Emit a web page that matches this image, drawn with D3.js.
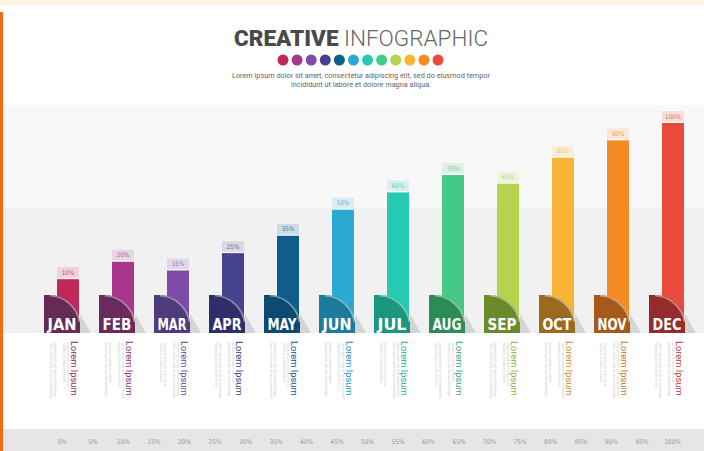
<!DOCTYPE html>
<html><head><meta charset="utf-8">
<script src="https://cdn.jsdelivr.net/npm/d3@7/dist/d3.min.js"></script>
<style>html,body{margin:0;padding:0;background:#fff;overflow:hidden}svg{display:block}</style>
</head><body>
<script>
const months = ["JAN","FEB","MAR","APR","MAY","JUN","JUL","AUG","SEP","OCT","NOV","DEC"];
const values = [10,20,15,25,35,50,60,70,65,80,90,100];
const valueLabels = ["10%","20%","15%","25%","35%","50%","60%","70%","65%","80%","90%","100%"];
const barColors = ["#c0285a","#a8378c","#7d4ca8","#47428f","#0f5d8c","#2aa9d2","#26c9b2","#45c985","#b6d24e","#f8b535","#f68b23","#e84a3b"];
const boxColors = ["#652a55","#6b2a5e","#4f3a7c","#2f2e6a","#0d4a72","#1d7c9e","#1b977f","#2d8b58","#6b8a2a","#9a6a1e","#a55a1b","#962b2b"];
const axisTicks = [0,5,10,15,20,25,30,35,40,45,50,55,60,65,70,75,80,85,90,95,100];
const titleBold = "CREATIVE";
const titleLight = "INFOGRAPHIC";
const subtitle = ["Lorem ipsum dolor sit amet, consectetur adipiscing elit, sed do eiusmod tempor","incididunt ut labore et dolore magna aliqua."];
const itemTitle = "Lorem Ipsum";
const itemText = ["Lorem ipsum dolor sit amet, consectetur","adipiscing elit, sed do eiusmod tempor","incididunt ut labore et dolore","magna aliqua ut enim ad minim"];

const W = 704, H = 451;
const svg = d3.select("body").append("svg").attr("width", W).attr("height", H);

// background
svg.append("rect").attr("width", W).attr("height", H).attr("fill", "#fff");
svg.append("rect").attr("x",0).attr("y",0).attr("width",W).attr("height",5).attr("fill","#fdf5e4");
svg.append("rect").attr("x",3).attr("y",105).attr("width",W-3).attr("height",103).attr("fill","#f8f8f8");
svg.append("rect").attr("x",3).attr("y",208).attr("width",W-3).attr("height",125).attr("fill","#f1f1f1");
svg.append("rect").attr("x",3).attr("y",429).attr("width",W-3).attr("height",22).attr("fill","#e6e6e6");
svg.append("rect").attr("x",0).attr("y",12).attr("width",3).attr("height",H-12).attr("fill","#f26a1b");

// title
const title = svg.append("text").attr("x", 361).attr("y", 46).attr("text-anchor","middle")
  .style("font-family","Roboto, 'Open Sans', sans-serif").style("font-size","22.5px");
title.append("tspan").text(titleBold).attr("font-weight","900").attr("fill","#4a4a4a");
title.append("tspan").text("\u00a0" + titleLight).attr("font-weight","300").attr("fill","#666");

// dots
const dotX = d3.scalePoint().domain(months).range([283, 438]);
svg.append("g").selectAll("circle").data(months).join("circle")
  .attr("cx", d => dotX(d)).attr("cy", 60).attr("r", 5.5)
  .attr("fill", (d,i) => barColors[i]);

svg.append("g").selectAll("text").data(subtitle).join("text")
  .attr("x", 361).attr("y", (d,i) => 78 + i*9).attr("text-anchor","middle")
  .style("font-family","Roboto, sans-serif").style("font-size","7.3px").attr("fill","#666")
  .text(d => d);

// scales
const baseY = 333;
const x = d3.scaleBand().domain(months).range([44, 685]).paddingInner(19/55).paddingOuter(0);
const y = d3.scaleLinear().domain([-21, 100]).range([baseY, 123]);
const bw = x.bandwidth();
const barOff = 13, barW = 22;

const g = svg.append("g");
const items = g.selectAll("g.item").data(months).join("g").attr("class","item")
  .attr("transform", d => `translate(${x(d)},0)`);

// bars
items.append("rect").attr("x", barOff).attr("width", barW)
  .attr("y", (d,i) => y(values[i])).attr("height", (d,i) => baseY - y(values[i]))
  .attr("fill", (d,i) => barColors[i]);

// value label rects
items.append("rect").attr("x", barOff).attr("width", barW)
  .attr("y", (d,i) => y(values[i]) - 12).attr("height", 10.5)
  .attr("fill", (d,i) => barColors[i]).attr("fill-opacity", 0.15);
items.append("text").attr("x", barOff + barW/2).attr("y", (d,i) => y(values[i]) - 4.5)
  .attr("text-anchor","middle").style("font-family","'DejaVu Sans Condensed', sans-serif")
  .style("font-size","6.3px").attr("fill", (d,i) => barColors[i]).attr("fill-opacity", 0.85)
  .text((d,i) => valueLabels[i]);

// shadow
items.append("path").attr("d", `M${bw},${baseY} L${bw},314 L${bw+11},${baseY} Z`)
  .attr("fill", "#c8c8c8").attr("fill-opacity", 0.7);

// label box with curl
items.append("path")
  .attr("d", `M0,${baseY} V295 H6 A31,31 0 0 1 ${bw},322 V${baseY} Z`)
  .attr("fill", (d,i) => boxColors[i]);
items.append("path")
  .attr("d", `M6,295.8 A31,31 0 0 1 ${bw-0.5},322`)
  .attr("fill","none").attr("stroke","#fff").attr("stroke-opacity",0.45).attr("stroke-width",1.6);

items.append("text").attr("x", bw/2).attr("y", 330).attr("text-anchor","middle")
  .style("font-family","'DejaVu Sans Condensed', 'DejaVu Sans', sans-serif").style("font-weight","bold")
  .style("font-size","15px").attr("fill","#fff")
  .attr("textLength", 29).attr("lengthAdjust","spacingAndGlyphs")
  .text(d => d);

// rotated texts
items.append("text").attr("transform", `translate(${bw-9},341) rotate(90)`)
  .style("font-family","Roboto, sans-serif").style("font-size","9.3px")
  .attr("fill", (d,i) => d3.interpolateRgb(boxColors[i], barColors[i])(0.5))
  .text(itemTitle);

const lineOffsets = [6, 9.5, 19, 22.5];
items.each(function(d,i){
  const sel = d3.select(this);
  lineOffsets.forEach((o,k) => {
    sel.append("text").attr("transform", `translate(${o},342) rotate(90)`)
      .style("font-family","Roboto, sans-serif").style("font-size","3.2px")
      .attr("fill","#c8c8c8")
      .text(itemText[(k + i) % itemText.length]);
  });
});

// bottom axis
const ax = d3.scaleLinear().domain([0,100]).range([62, 672]);
const axisG = svg.append("g").attr("transform","translate(0,436)")
  .call(d3.axisBottom(ax).tickValues(axisTicks).tickSize(0).tickFormat(d => d + "%"));
axisG.select(".domain").remove();
axisG.selectAll("text").style("font-family","'DejaVu Sans Condensed', sans-serif")
  .style("font-size","6.5px").attr("fill","#999");
</script>
</body></html>
